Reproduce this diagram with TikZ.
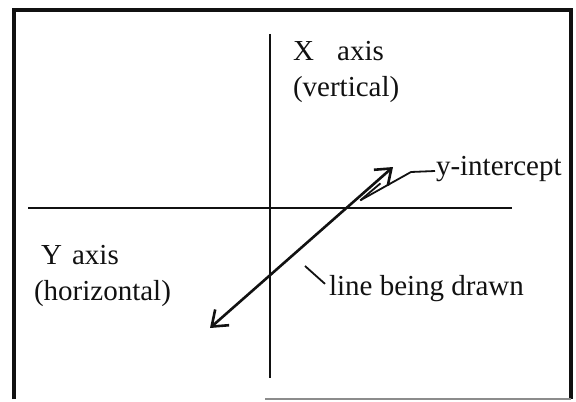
\documentclass[tikz,border=0pt]{standalone}
\usepackage{fontspec}
\setmainfont{Liberation Serif}
\usepackage{xcolor}
\usepackage{tikz}
\usetikzlibrary{arrows.meta}
\definecolor{ScanInk}{HTML}{111111}
\definecolor{ScanGrey}{HTML}{8C8C8C}
\tikzset{
  every picture/.style={line width=1pt},
  frameline/.style={draw=ScanInk, line width=2pt, line join=miter},
  frameedge/.style={draw=ScanGrey, line width=1pt},
  axisline/.style={draw=ScanInk, line width=1pt},
  drawnline/.style={
    draw=ScanInk,
    line width=1.3pt,
    {Straight Barb[length=7pt,width=10.5pt]}-{Straight Barb[length=7pt,width=10.5pt]}
  },
  leader/.style={draw=ScanInk, line width=0.9pt},
  leaderarrow/.style={leader, -{Straight Barb[harpoon,swap,length=13pt,width=5pt]}},
  labeltext/.style={
    font=\fontsize{14.5}{18}\selectfont,
    text=ScanInk,
    align=left,
    inner sep=0pt,
    anchor=base west
  }
}

\begin{document}
\begin{tikzpicture}[x=0.5pt,y=-0.5pt]
  \useasboundingbox (0,0) rectangle (576,401);

  % frame
  \draw[frameline] (14,399) -- (14,10) -- (571,10) -- (571,399);
  \draw[frameedge] (265,399) -- (571,399);

  % axes
  \coordinate (xtop) at (270,34);
  \coordinate (xbot) at (270,378);
  \coordinate (yleft) at (28,208);
  \coordinate (yright) at (512,208);
  \draw[axisline] (xtop) -- (xbot);
  \draw[axisline] (yleft) -- (yright);

  % base of a two-line label is its last line
  \node[labeltext] (xlab) at (292,97) {X\hspace{0.8em}axis\\(vertical)};
  \node[labeltext] (ylab) at (33,300) {\hspace*{3.5pt}Y\hspace{0.35em}axis\\(horizontal)};

  % the line
  \coordinate (lnlow) at (210,328);
  \coordinate (lnhigh) at (393,167);
  \draw[drawnline] (lnlow) -- (lnhigh);

  \node[labeltext] (icptlab) at (435,175) {y-intercept};
  \coordinate (knee) at (411,172);
  \coordinate (icpt) at (352,205);
  \draw[leaderarrow] ([yshift=2pt]icptlab.base west) -- (knee) -- (icpt);

  \node[labeltext] (linelab) at (328,295) {line being drawn};
  \coordinate (lineptr) at (305,266);
  \draw[leader] (lineptr) -- ([xshift=-1.5pt,yshift=-5pt]linelab.north west);
\end{tikzpicture}
\end{document}
